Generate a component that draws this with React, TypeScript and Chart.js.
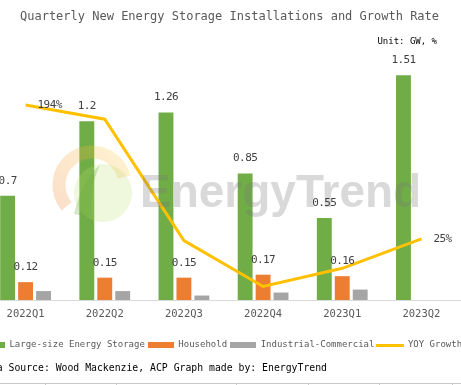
import React, { useEffect, useRef } from 'react';
import { Chart, registerables } from 'chart.js';

Chart.register(...registerables);

const categories = ['2022Q1', '2022Q2', '2022Q3', '2022Q4', '2023Q1', '2023Q2'];
const largeScale = [0.7, 1.2, 1.26, 0.85, 0.55, 1.51];
const household = [0.12, 0.15, 0.15, 0.17, 0.16, null];
const industrial = [0.06, 0.06, 0.03, 0.05, 0.07, null];
const yoyGrowth = [194, 176, 23, -35, -12, 25];
const seriesNames = ['Large-size Energy Storage', 'Household', 'Industrial-Commercial', 'YOY Growth'];
const seriesColors = ['#70AD47', '#ED7D31', '#A5A5A5', '#FFC000'];
const titleText = 'Quarterly New Energy Storage Installations and Growth Rate';
const unitText = 'Unit: GW, %';
const sourceText = 'Data Source: Wood Mackenzie, ACP Graph made by: EnergyTrend';
const watermarkText = 'EnergyTrend';

const MONO = '"DejaVu Sans Mono", "Liberation Mono", monospace';
const OFFSET_X = 40; // canvas starts 40px left of the viewport

function makeSwatch(color: string, w: number, h: number) {
  const c = document.createElement('canvas');
  c.width = w;
  c.height = h;
  const g = c.getContext('2d')!;
  g.fillStyle = color;
  g.fillRect(0, 0, w, h);
  return c;
}

const watermarkPlugin = {
  id: 'watermark',
  afterDatasetsDraw(chart: any) {
    const ctx = chart.ctx as CanvasRenderingContext2D;
    ctx.save();
    const cx = 92 + OFFSET_X;
    const cy = 185;
    const r = 33;
    const grad = ctx.createLinearGradient(cx - r, cy + r, cx + r, cy - r);
    grad.addColorStop(0, 'rgba(237,125,49,0.26)');
    grad.addColorStop(1, 'rgba(255,205,70,0.26)');
    ctx.strokeStyle = grad;
    ctx.lineWidth = 13;
    ctx.beginPath();
    ctx.arc(cx, cy, r, (140 * Math.PI) / 180, (346 * Math.PI) / 180);
    ctx.stroke();

    // inner leaf
    ctx.fillStyle = 'rgba(190,220,110,0.24)';
    ctx.beginPath();
    ctx.arc(103 + OFFSET_X, 193, 29, 0, Math.PI * 2);
    ctx.fill();
    ctx.fillStyle = 'rgba(112,173,71,0.3)';
    ctx.beginPath();
    ctx.moveTo(74 + OFFSET_X, 214);
    ctx.quadraticCurveTo(82 + OFFSET_X, 180, 100 + OFFSET_X, 165);
    ctx.quadraticCurveTo(88 + OFFSET_X, 190, 92 + OFFSET_X, 218);
    ctx.closePath();
    ctx.fill();

    ctx.font = 'bold 46px "Liberation Sans", Arial, sans-serif';
    ctx.fillStyle = 'rgba(120,120,120,0.28)';
    ctx.textBaseline = 'alphabetic';
    ctx.textAlign = 'left';
    ctx.fillText(watermarkText, 140 + OFFSET_X, 207);
    ctx.restore();
  },
};

const valueLabelPlugin = {
  id: 'valueLabels',
  afterDatasetsDraw(chart: any) {
    const ctx = chart.ctx as any;
    ctx.save();
    ctx.font = `11px ${MONO}`;
    try {
      ctx.letterSpacing = '-0.6px';
    } catch (e) {
      /* ignore */
    }
    ctx.fillStyle = '#404040';
    ctx.textBaseline = 'middle';
    chart.data.datasets.forEach((ds: any, di: number) => {
      const meta = chart.getDatasetMeta(di);
      if (di <= 1) {
        ctx.textAlign = 'center';
        meta.data.forEach((el: any, i: number) => {
          const v = ds.data[i];
          if (v == null) return;
          ctx.fillText(String(v), el.x, el.y - 15);
        });
      } else if (di === 3) {
        ctx.textAlign = 'left';
        const last = ds.data.length - 1;
        [0, last].forEach((i) => {
          const el = meta.data[i];
          ctx.fillText(`${ds.data[i]}%`, el.x + 12, el.y);
        });
      }
    });
    ctx.restore();
  },
};

export default function App() {
  const canvasRef = useRef<HTMLCanvasElement | null>(null);

  useEffect(() => {
    const canvas = canvasRef.current;
    if (!canvas) return;
    const swatches = [
      makeSwatch(seriesColors[0], 26, 6),
      makeSwatch(seriesColors[1], 26, 6),
      makeSwatch(seriesColors[2], 26, 6),
      makeSwatch(seriesColors[3], 28, 3),
    ];
    const chart = new Chart(canvas, {
      type: 'bar',
      data: {
        labels: categories,
        datasets: [
          {
            type: 'bar',
            label: seriesNames[0],
            data: largeScale,
            backgroundColor: seriesColors[0],
            yAxisID: 'y',
            order: 1,
            categoryPercentage: 0.68,
            barPercentage: 0.83,
          },
          {
            type: 'bar',
            label: seriesNames[1],
            data: household,
            backgroundColor: seriesColors[1],
            yAxisID: 'y',
            order: 1,
            categoryPercentage: 0.68,
            barPercentage: 0.83,
          },
          {
            type: 'bar',
            label: seriesNames[2],
            data: industrial,
            backgroundColor: seriesColors[2],
            yAxisID: 'y',
            order: 1,
            categoryPercentage: 0.68,
            barPercentage: 0.83,
          },
          {
            type: 'line',
            label: seriesNames[3],
            data: yoyGrowth,
            borderColor: seriesColors[3],
            backgroundColor: seriesColors[3],
            borderWidth: 3,
            pointRadius: 0,
            tension: 0,
            yAxisID: 'y1',
            order: 0,
          },
        ] as any,
      },
      options: {
        animation: false,
        responsive: false,
        maintainAspectRatio: false,
        devicePixelRatio: 1,
        layout: { padding: { top: 32, left: 0, right: 0, bottom: 25.5 } },
        plugins: {
          title: { display: false },
          tooltip: { enabled: false },
          legend: {
            position: 'bottom',
            labels: {
              font: { family: MONO, size: 9 },
              color: '#595959',
              padding: 3,
              usePointStyle: true,
              pointStyleWidth: 26,
              boxHeight: 9,
              generateLabels: (c: any) =>
                c.data.datasets.map((ds: any, i: number) => ({
                  text: ds.label,
                  fillStyle: seriesColors[i],
                  strokeStyle: seriesColors[i],
                  lineWidth: 0,
                  pointStyle: swatches[i],
                  hidden: false,
                  datasetIndex: i,
                  fontColor: '#595959',
                })),
            },
          },
        },
        scales: {
          x: {
            grid: { display: false, drawTicks: false },
            border: { display: true, color: '#d9d9d9', width: 1 },
            ticks: { font: { family: MONO, size: 10.5 }, color: '#595959', padding: 8 },
            afterFit: (s: any) => {
              s.height = 37.5;
            },
          },
          y: {
            position: 'left',
            min: 0,
            max: 1.8,
            ticks: { display: false },
            grid: { display: false },
            border: { display: false },
            afterFit: (s: any) => {
              s.width = 26;
            },
          },
          y1: {
            position: 'right',
            min: -52,
            max: 286,
            ticks: { display: false },
            grid: { display: false },
            border: { display: false },
            afterFit: (s: any) => {
              s.width = 20;
            },
          },
        },
      } as any,
      plugins: [watermarkPlugin, valueLabelPlugin],
    });
    return () => chart.destroy();
  }, []);

  const tableTicks = [45, 116, 236, 308, 379, 452];

  return (
    <div
      style={{
        position: 'fixed',
        left: 0,
        top: 0,
        width: 461,
        height: 385,
        overflow: 'hidden',
        background: '#ffffff',
      }}
    >
      <canvas
        ref={canvasRef}
        width={521}
        height={385}
        style={{ position: 'absolute', left: -OFFSET_X, top: 0, width: 521, height: 385 }}
      />
      <div
        style={{
          position: 'absolute',
          left: 20,
          top: 9,
          font: `12px ${MONO}`,
          lineHeight: '14px',
          color: '#595959',
          whiteSpace: 'nowrap',
        }}
      >
        {titleText}
      </div>
      <div
        style={{
          position: 'absolute',
          right: 24,
          top: 35,
          font: `9px ${MONO}`,
          lineHeight: '12px',
          color: '#000000',
          whiteSpace: 'nowrap',
        }}
      >
        {unitText}
      </div>
      <div
        style={{
          position: 'absolute',
          left: -21,
          top: 362,
          font: `9.8px ${MONO}`,
          lineHeight: '12px',
          color: '#000000',
          whiteSpace: 'nowrap',
        }}
      >
        {sourceText}
      </div>
      <div
        style={{
          position: 'absolute',
          left: 0,
          top: 383,
          width: 461,
          height: 0,
          borderTop: '1px solid #c8c8c8',
        }}
      />
      {tableTicks.map((x) => (
        <div
          key={x}
          style={{ position: 'absolute', left: x, top: 383, width: 1, height: 2, background: '#c8c8c8' }}
        />
      ))}
    </div>
  );
}
